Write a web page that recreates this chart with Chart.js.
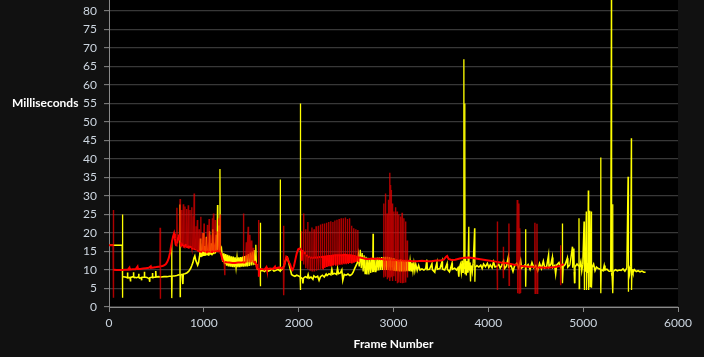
<!DOCTYPE html>
<html>
<head>
<meta charset="utf-8">
<script src="https://cdn.jsdelivr.net/npm/chart.js@4/dist/chart.umd.min.js"></script>
<style>
  html, body { margin: 0; padding: 0; background: #111111; }
  canvas { display: block; }
</style>
</head>
<body>
<canvas id="c" width="704" height="357"></canvas>
<script>
// ---- Data (frame number, milliseconds) ----
const yellowPoints = [
  [0,16.7],[139,16.7],[141,25.0],[143,2.5],[146,8.2],
  [170,8.1],[190,8.0],[195,9.3],[198,7.9],[222,8.0],[226,6.9],[229,8.0],[255,8.2],[258,9.4],[261,8.1],
  [290,7.9],[310,8.1],[313,9.0],[316,8.0],[340,7.8],[343,7.2],[346,8.0],[370,8.1],[373,9.5],[376,8.1],
  [400,8.0],[425,7.6],[428,6.8],[431,7.9],[455,8.1],[458,9.2],[461,8.0],[490,8.1],[493,9.7],[496,8.1],
  [520,8.2],[550,8.1],[580,8.2],[610,8.2],[640,8.3],[659,8.3],[661,17.9],[663,2.4],[666,8.4],[690,8.4],
  [715,8.5],[735,8.7],[746,8.6],[748,27.7],[750,2.8],[753,8.8],[770,8.8],[778,8.6],[780,6.2],[783,8.9],
  [800,9.0],[820,9.2],[840,9.6],[860,10.4],[873,11.2],[885,12.0],[895,13.2],[905,13.8],[915,12.6],[925,12.0],
  [935,11.3],[945,12.0],
  [955,13.8],[962,18.5],[968,13.5],[978,15.5],[985,13.7],[993,20.0],[1000,13.8],[1010,16.5],[1018,13.9],
  [1027,19.0],[1035,14.0],[1045,15.8],[1052,13.9],[1060,20.5],[1068,14.2],[1078,17.2],[1086,14.0],[1095,21.0],
  [1103,14.3],[1112,16.0],[1120,14.5],[1130,19.5],[1138,14.8],[1144,27.6],[1148,15.0],[1158,22.0],[1166,15.2],
  [1170,37.3],[1174,15.5],[1185,16.0],[1192,14.0],
  [1200,12.2],[1210,14.5],[1220,11.6],[1230,14.3],[1240,11.2],[1250,14.1],[1260,11.0],[1270,13.9],[1280,10.9],
  [1290,13.7],[1300,10.8],[1310,13.6],[1320,10.8],[1330,13.4],[1340,10.8],[1350,13.3],[1360,10.8],[1370,13.4],
  [1380,10.8],[1390,13.5],[1400,10.9],[1410,13.6],[1420,10.9],[1430,13.8],[1440,11.0],[1450,14.0],[1460,11.0],
  [1470,14.3],[1480,11.1],[1490,14.7],[1500,11.2],[1510,15.0],[1520,11.3],[1530,15.4],[1540,11.5],[1548,16.8],
  [1555,11.0],[1565,10.3],
  [1580,10.0],[1593,10.0],[1595,22.8],[1597,5.6],[1600,9.8],[1620,9.9],[1640,9.6],[1660,10.1],[1680,9.7],
  [1700,9.9],[1720,10.3],[1740,9.7],[1760,9.9],[1780,10.2],[1800,9.8],[1804,9.9],[1806,34.5],[1808,9.8],
  [1825,10.2],[1840,10.8],[1855,12.0],[1870,13.2],[1880,13.4],[1890,12.6],[1900,11.5],[1912,10.2],[1925,8.8],
  [1940,8.5],[1960,8.3],[1980,8.6],[2000,8.4],[2015,8.2],[2017,55.0],[2019,4.6],[2022,8.0],
  [2040,7.6],[2045,6.4],[2050,7.8],[2070,8.2],[2090,7.9],[2100,8.8],[2110,7.8],[2130,8.1],[2150,7.5],[2160,8.4],
  [2180,8.0],[2200,8.3],[2215,7.2],[2230,8.2],[2250,8.6],[2270,8.1],[2290,8.9],[2300,8.5],[2320,9.0],[2340,8.7],
  [2350,10.2],[2360,8.9],[2380,9.1],[2400,8.8],[2410,10.4],[2420,9.0],[2440,9.2],[2455,10.0],[2465,7.2],
  [2480,8.8],[2500,8.6],[2520,8.9],[2540,8.5],[2560,8.8],[2575,9.4],[2590,10.4],[2605,11.2],[2620,12.0],
  [2630,14.0],[2640,11.0],[2650,15.5],[2660,10.5],[2670,14.6],[2680,9.6],[2690,14.0],[2700,9.0],[2710,13.6],
  [2720,8.8],[2730,13.3],[2740,8.8],[2750,13.2],[2760,9.2],[2770,13.2],[2780,9.4],[2784,19.8],[2788,9.5],
  [2795,13.3],[2805,9.6],[2815,13.3],[2825,9.8],[2835,13.4],[2845,9.9],[2855,13.4],[2865,10.0],[2875,13.5],
  [2885,10.0],[2895,13.6],[2905,10.0],[2915,13.6],[2925,10.0],[2935,13.6],[2945,10.0],[2955,13.5],[2965,9.9],
  [2975,13.4],[2985,9.9],[2995,13.2],
  [3005,9.8],[3015,12.8],[3025,9.7],[3035,12.8],[3045,9.7],[3055,12.7],[3065,9.6],[3075,12.8],[3085,9.6],
  [3095,12.7],[3105,9.6],[3115,12.6],[3125,9.6],[3135,12.6],[3145,9.7],[3155,12.5],[3165,9.7],[3175,12.3],
  [3185,9.8],[3195,12.0],[3205,9.8],[3215,11.8],[3225,9.9],[3235,11.5],[3250,9.9],[3265,11.2],[3280,10.0],
  [3300,10.3],[3320,10.0],[3340,10.4],[3352,12.8],[3356,10.1],[3380,10.2],[3405,11.7],[3410,10.1],[3435,9.4],
  [3440,10.2],[3458,12.0],[3462,10.2],[3490,10.4],[3512,12.3],[3516,10.3],[3540,10.0],[3565,11.7],[3568,10.2],
  [3590,9.5],[3600,10.3],[3617,11.8],[3620,10.2],[3645,10.5],[3665,10.0],[3680,10.6],[3689,8.2],[3693,10.4],
  [3705,11.5],[3715,9.5],[3725,12.5],[3732,9.2],[3740,12.0],[3742,67.0],[3744,10.5],[3750,11.0],[3752,55.0],
  [3754,9.0],[3760,13.0],[3768,8.5],[3776,12.4],[3784,9.3],[3794,21.7],[3797,10.0],[3805,12.0],[3812,6.9],
  [3818,11.2],[3830,9.5],[3840,11.8],[3855,21.3],[3858,6.8],[3862,10.8],[3880,11.2],[3900,10.8],
  [3920,11.3],[3935,10.4],[3950,11.6],[3970,10.9],[3990,11.8],[4005,10.7],[4020,11.4],[4040,10.6],[4055,12.2],
  [4070,10.8],[4090,11.0],[4110,11.5],[4125,10.5],[4140,11.2],[4160,12.4],[4170,10.4],[4190,11.0],[4210,13.4],
  [4215,10.8],[4240,11.2],[4260,9.6],[4275,11.0],[4300,11.8],[4320,10.6],[4340,12.6],[4350,10.5],[4370,11.0],
  [4391,11.5],[4393,21.0],[4395,5.5],[4398,10.8],[4420,11.5],[4440,10.2],[4460,12.0],[4480,10.6],[4500,11.2],
  [4520,9.8],[4540,11.8],[4560,10.4],[4580,12.4],[4595,10.6],[4615,11.0],[4635,14.0],[4640,10.8],[4660,11.6],
  [4675,13.4],[4680,10.7],[4700,11.2],[4710,9.0],[4720,11.3],[4745,12.0],[4765,10.6],[4778,11.6],[4780,22.6],
  [4784,6.4],[4790,11.0],[4810,11.5],[4833,13.2],[4838,10.8],[4860,11.4],[4886,16.3],[4889,10.6],[4903,15.8],
  [4906,9.5],[4910,6.4],[4915,10.9],[4935,11.6],
  [4955,11.0],[4956,24.0],[4958,5.0],[4962,10.8],[4975,12.2],[4985,9.8],[4995,11.5],[5009,23.1],[5011,4.6],
  [5016,12.0],[5022,9.6],[5033,25.8],[5035,4.6],[5042,11.8],[5048,9.2],[5054,31.5],[5056,4.6],[5060,12.4],
  [5065,26.0],[5067,9.5],[5072,21.7],[5074,5.5],[5079,11.5],[5086,25.8],[5088,5.2],[5095,10.8],[5110,11.6],
  [5125,9.8],[5140,10.8],[5160,10.4],[5183,10.2],[5185,40.4],[5187,3.7],[5190,10.1],[5210,9.8],[5222,11.2],
  [5230,10.0],[5250,10.2],[5270,9.7],[5290,9.6],[5298,88.0],[5300,9.3],[5305,8.2],[5311,27.8],[5313,3.7],
  [5318,9.6],[5340,10.1],[5360,9.8],[5380,10.0],[5400,9.9],[5420,10.3],[5440,9.7],[5460,10.5],[5473,35.2],
  [5475,4.1],[5480,11.2],[5490,9.0],[5500,10.9],[5508,45.6],[5510,4.6],[5515,10.2],[5525,9.3],[5540,10.1],
  [5560,9.6],[5580,9.8],[5600,9.5],[5620,9.7],[5640,9.4],[5658,9.4]
];

const redPoints = [
  [0,16.7],[43,16.7],[45,26.2],[47,2.5],[50,10.1],
  [80,10.0],[110,10.0],[140,10.0],[170,10.1],[200,10.1],[215,10.6],[218,10.1],[250,10.2],[280,10.2],[300,10.9],
  [303,10.3],[330,10.3],[360,10.4],[390,10.5],[420,10.6],[440,11.0],[443,10.6],[470,10.7],[500,10.8],[520,10.9],
  [537,10.9],[539,21.4],[541,2.2],[544,11.0],[565,11.1],[585,11.3],[600,11.6],[615,12.2],[630,13.2],[645,14.8],
  [655,16.5],[665,17.8],[675,19.0],[686,19.9],[695,18.5],[702,17.0],
  [710,16.5],[716,26.8],[719,17.2],[728,18.6],[735,19.6],[742,18.0],[750,29.2],[753,17.5],[760,16.3],[766,26.2],
  [769,16.5],[778,17.2],[784,27.8],[787,16.8],[795,16.0],[801,27.2],[804,16.3],[812,17.0],[818,26.5],[821,16.0],
  [830,16.5],[836,27.5],[839,15.8],[848,16.6],[854,26.2],[857,16.0],[866,16.4],[872,27.0],[875,15.6],[884,16.0],
  [890,24.5],[893,15.5],[898,30.7],[901,15.4],[912,15.8],[918,21.8],[921,15.2],
  [932,23.5],[935,15.0],[945,15.3],[950,21.0],[953,14.8],[962,15.2],[967,24.4],[970,15.0],[980,14.8],[985,20.0],
  [988,15.1],[997,15.3],[1002,22.6],[1005,14.9],[1015,15.0],[1020,18.8],[1023,14.8],[1032,15.2],[1038,22.2],
  [1041,14.9],[1050,15.1],[1056,23.8],[1059,14.8],[1068,15.0],[1073,19.5],[1076,14.9],[1086,15.3],[1091,24.0],
  [1094,15.0],[1102,25.3],[1105,14.8],[1114,15.1],[1120,23.5],[1123,14.9],[1132,15.2],[1137,20.5],[1140,15.0],
  [1150,15.3],[1155,24.0],[1158,15.0],[1165,15.4],[1172,25.0],[1175,14.8],[1185,14.0],[1195,13.0],[1205,12.4],
  [1215,12.2],[1220,8.6],[1223,12.2],[1240,12.1],
  [1270,12.0],[1300,11.9],[1330,11.9],[1360,12.0],[1390,12.0],[1415,12.1],[1418,25.3],[1421,12.0],[1440,12.1],
  [1448,17.5],[1451,12.0],[1468,21.7],[1471,12.1],[1486,19.5],[1489,12.0],[1503,18.0],[1506,12.1],[1522,16.0],
  [1525,12.0],[1540,12.2],[1552,11.6],[1560,10.4],
  [1575,10.3],[1577,23.5],[1580,8.2],[1584,10.2],[1610,10.3],[1640,10.1],[1660,10.8],[1665,10.2],[1700,10.4],
  [1730,10.3],[1750,10.9],[1755,10.4],[1780,10.6],[1800,10.7],[1820,10.4],[1839,10.8],[1841,22.0],[1843,3.2],
  [1846,10.9],[1858,12.2],[1870,13.6],[1880,13.4],[1895,12.2],[1910,11.5],[1925,10.2],[1935,10.0],[1950,11.0],
  [1965,12.8],[1980,14.5],[1995,15.6],[2010,15.8],
  [2027,15.4],[2030,20.5],[2032,12.5],[2036,15.2],[2050,15.0],[2052,25.3],[2054,11.5],[2058,14.8],
  [2072,14.4],[2074,21.0],[2076,10.5],[2080,14.0],[2094,13.8],[2096,23.0],[2098,10.2],[2102,13.6],
  [2116,13.5],[2118,20.4],[2120,10.0],[2124,13.4],[2138,13.3],[2140,21.5],[2142,9.8],[2146,13.3],
  [2160,13.3],[2162,21.0],[2164,9.6],[2168,13.3],[2182,13.4],[2184,21.8],[2186,9.8],[2190,13.4],
  [2204,13.4],[2206,22.0],[2208,10.0],[2212,13.5],[2226,13.5],[2228,22.3],[2230,10.2],[2234,13.5],
  [2248,13.5],[2250,22.5],[2252,10.4],[2256,13.6],[2270,13.6],[2272,22.6],[2274,10.6],[2278,13.6],
  [2292,13.7],[2294,22.8],[2296,10.8],[2300,13.7],[2314,13.8],[2316,23.0],[2318,11.0],[2322,13.8],
  [2336,13.8],[2338,23.2],[2340,11.0],[2344,13.8],[2358,13.9],[2360,23.0],[2362,11.2],[2366,13.9],
  [2380,13.9],[2382,23.4],[2384,11.4],[2388,14.0],[2402,14.0],[2404,23.6],[2406,11.5],[2410,14.0],
  [2424,14.0],[2426,23.8],[2428,11.6],[2432,14.0],[2446,14.0],[2448,24.0],[2450,11.7],[2454,14.0],
  [2468,14.1],[2470,24.0],[2472,11.8],[2476,14.1],[2490,14.1],[2492,24.2],[2494,11.8],[2498,14.1],
  [2512,14.0],[2514,23.8],[2516,11.9],[2520,14.0],[2534,14.0],[2536,24.0],[2538,11.9],[2542,14.0],
  [2556,13.9],[2558,22.0],[2560,11.8],[2564,13.9],[2578,13.8],[2580,21.3],[2582,12.0],[2586,13.8],
  [2600,13.7],[2602,21.0],[2604,12.2],[2608,13.6],[2622,13.5],[2624,20.8],[2626,12.4],[2630,13.4],
  [2650,13.4],[2680,13.2],[2710,13.0],[2740,13.0],[2770,13.1],[2800,13.0],[2830,13.1],[2860,13.0],[2880,13.0],
  [2895,12.9],[2897,28.0],[2899,8.0],[2902,12.8],[2912,12.8],[2914,30.7],[2916,8.2],[2919,12.8],
  [2930,12.8],[2932,25.3],[2934,7.5],[2937,12.8],[2943,12.8],[2945,29.0],[2947,8.0],[2950,12.8],
  [2958,12.8],[2960,36.3],[2962,7.0],[2965,12.7],[2967,33.0],[2969,8.0],[2972,12.7],[2974,31.6],[2976,8.2],
  [2979,12.7],[2986,12.7],[2988,28.0],[2990,7.0],[2993,12.7],[3001,12.7],[3003,25.8],[3005,8.3],[3008,12.7],
  [3018,12.7],[3020,27.0],[3022,7.0],[3025,12.7],[3036,12.6],[3038,25.8],[3040,6.4],[3043,12.6],
  [3053,12.6],[3055,25.0],[3057,6.6],[3060,12.6],[3071,12.6],[3073,24.5],[3075,6.5],[3078,12.6],
  [3088,12.6],[3090,25.5],[3092,6.4],[3095,12.6],[3106,12.5],[3108,24.0],[3110,6.5],[3113,12.5],
  [3124,12.5],[3126,23.1],[3128,6.6],[3131,12.5],[3142,12.5],[3144,18.0],[3146,8.0],[3149,12.5],
  [3160,12.5],[3200,12.4],[3250,12.4],[3300,12.5],[3350,12.4],[3400,12.4],[3450,12.6],[3500,12.6],[3530,12.8],
  [3555,13.6],[3566,13.8],[3580,13.0],[3610,12.7],[3650,12.8],[3700,13.1],[3750,13.3],[3800,13.4],[3850,13.2],
  [3900,13.0],[3950,12.8],[4000,12.6],[4050,12.4],[4092,12.2],[4094,23.1],[4096,4.6],[4099,12.2],[4140,12.0],
  [4155,11.9],[4157,16.3],[4159,7.8],[4162,11.9],[4200,11.8],[4215,11.7],[4217,22.6],[4219,5.9],[4222,11.7],
  [4260,11.5],[4300,11.3],[4305,28.9],[4308,3.7],[4312,11.3],[4318,11.2],[4322,28.0],[4325,3.8],[4330,11.2],
  [4333,21.3],[4336,4.0],[4340,11.1],[4380,11.0],[4420,10.9],[4460,10.9],[4488,10.8],[4491,22.8],[4494,3.7],
  [4500,10.8],[4510,10.8],[4513,22.5],[4516,3.7],[4520,10.7],[4560,10.7],[4600,10.6],[4650,10.7],[4700,10.8],
  [4740,11.0],[4760,11.2],[4762,16.7],[4764,5.9],[4767,11.3],[4797,11.6]
];

const xTickStep = 1000;
const yTickStep = 5;
const yTitle = 'Milliseconds';
const xTitle = 'Frame Number';

// ---- Styling ----
const tickColor = '#cdd6e0';
const axisGray = '#8a8a8a';
const gridGray = '#383838';
const fontFamily = 'Lato, "Open Sans", sans-serif';

const plotBg = {
  id: 'plotBg',
  beforeDraw(chart) {
    const {ctx, chartArea: a} = chart;
    ctx.save();
    ctx.fillStyle = '#111111';
    ctx.fillRect(0, 0, chart.width, chart.height);
    ctx.fillStyle = '#000000';
    ctx.fillRect(a.left, a.top, a.right - a.left, a.bottom - a.top);
    ctx.restore();
  }
};

const yTitlePlugin = {
  id: 'yTitlePlugin',
  afterDraw(chart) {
    const ctx = chart.ctx;
    ctx.save();
    ctx.fillStyle = '#ffffff';
    ctx.font = 'bold 12px ' + fontFamily;
    ctx.textAlign = 'left';
    ctx.textBaseline = 'middle';
    ctx.fillText(yTitle, 12, 103);
    ctx.restore();
  }
};

function spike(c) {
  return Math.abs(c.p1.y - c.p0.y) > 12;
}

new Chart(document.getElementById('c'), {
  type: 'line',
  data: {
    datasets: [
      {
        label: 'red',
        data: redPoints.map(p => ({x: p[0], y: p[1]})),
        borderColor: '#ff0000',
        borderWidth: 2,
        pointRadius: 0,
        tension: 0,
        order: 0,
        segment: {
          borderColor: c => spike(c) ? 'rgba(240,0,0,0.72)' : undefined,
          borderWidth: c => spike(c) ? 1.4 : undefined
        }
      },
      {
        label: 'yellow',
        data: yellowPoints.map(p => ({x: p[0], y: p[1]})),
        borderColor: '#ffff00',
        borderWidth: 1.6,
        pointRadius: 0,
        tension: 0,
        order: 1,
        segment: {
          borderWidth: c => spike(c) ? 1.3 : undefined
        }
      }
    ]
  },
  options: {
    responsive: false,
    devicePixelRatio: 1,
    animation: false,
    parsing: false,
    normalized: true,
    layout: { padding: { left: 0, right: 26, top: 0, bottom: 0 } },
    plugins: { legend: { display: false }, tooltip: { enabled: false } },
    scales: {
      x: {
        type: 'linear',
        min: 0,
        max: 6000,
        afterFit(s) { s.height = 50; s.paddingLeft = 0; s.paddingRight = 0; },
        ticks: {
          stepSize: xTickStep,
          includeBounds: false,
          color: tickColor,
          font: { family: fontFamily, size: 12 },
          padding: 4,
          maxRotation: 0,
          autoSkip: false,
          callback: v => String(v)
        },
        grid: { drawOnChartArea: false, drawTicks: true, tickLength: 5, tickColor: axisGray, tickWidth: 1 },
        border: { color: axisGray, width: 1 },
        title: {
          display: true,
          text: xTitle,
          color: '#ffffff',
          font: { family: fontFamily, size: 12, weight: 'bold' },
          padding: { top: 0, bottom: 6 }
        }
      },
      y: {
        type: 'linear',
        min: 0,
        max: 83,
        afterFit(s) { s.width = 109; s.paddingTop = 0; s.paddingBottom = 0; },
        ticks: {
          stepSize: yTickStep,
          includeBounds: false,
          color: tickColor,
          font: { family: fontFamily, size: 12 },
          padding: 7,
          autoSkip: false,
          callback: v => String(v)
        },
        grid: { color: gridGray, lineWidth: 1.3, drawTicks: true, tickLength: 5, tickColor: axisGray, tickWidth: 1 },
        border: { color: axisGray, width: 1 }
      }
    }
  },
  plugins: [plotBg, yTitlePlugin]
});
</script>
</body>
</html>
